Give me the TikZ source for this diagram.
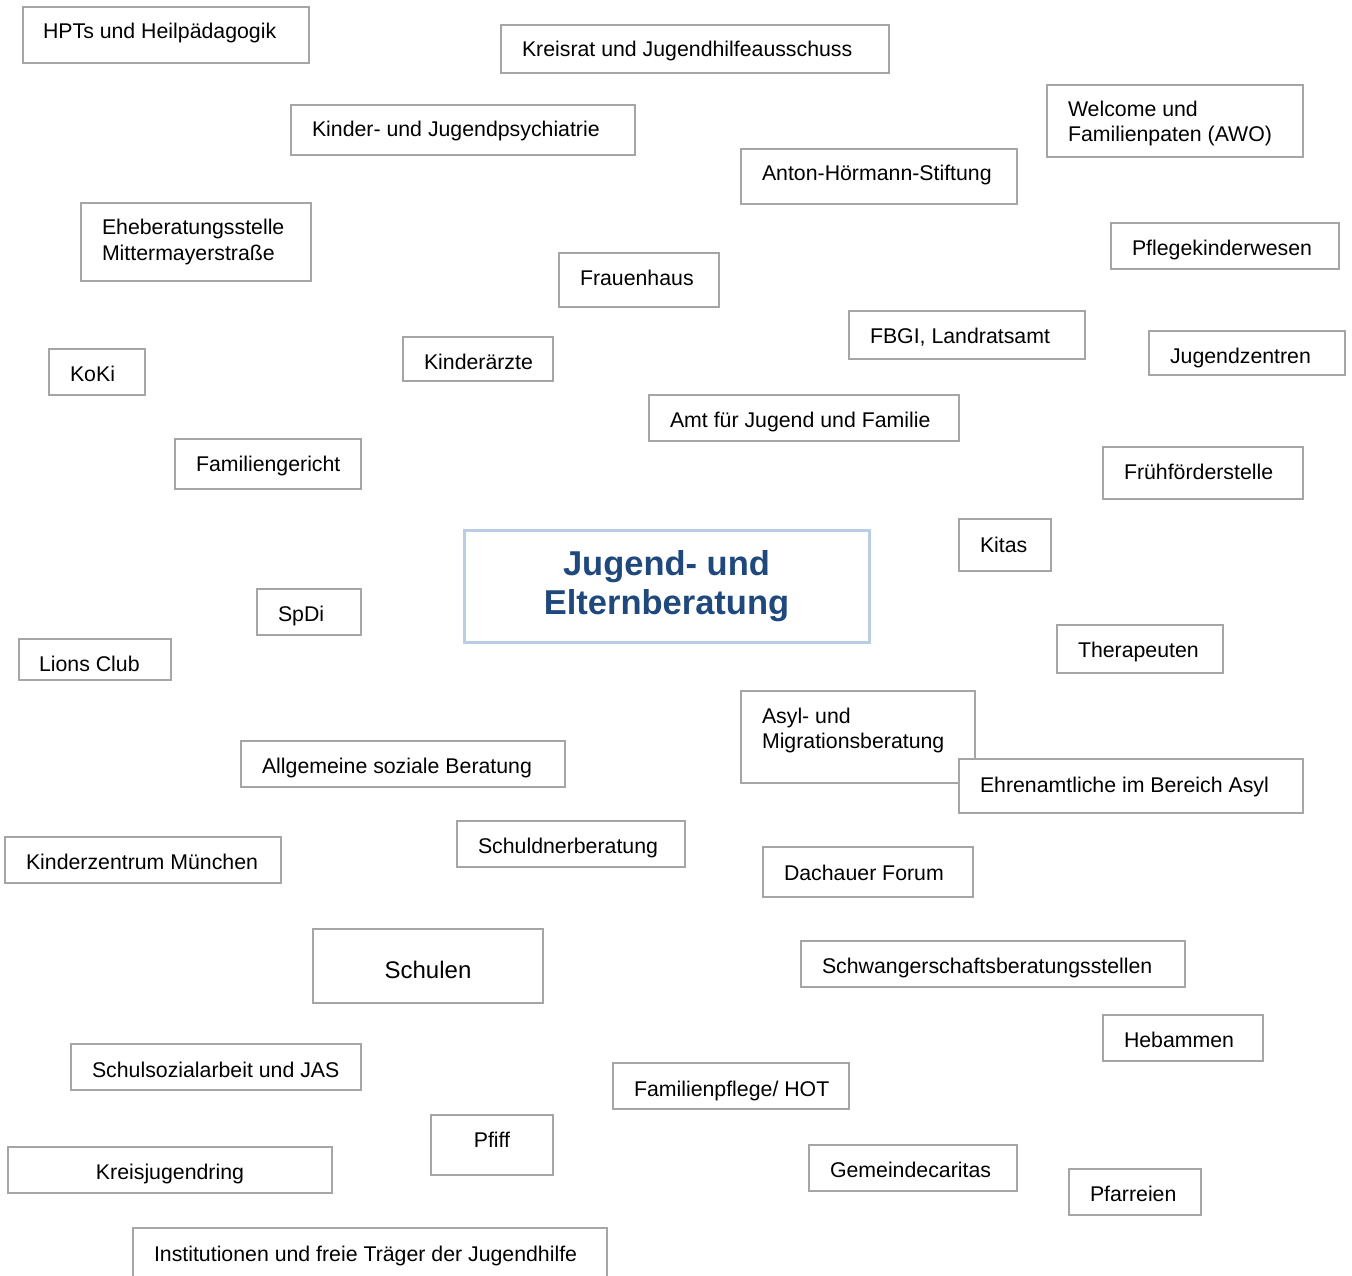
\documentclass[tikz,border=0pt]{standalone}
\usepackage{fontspec}
\setmainfont{Liberation Sans}
\definecolor{boxgray}{RGB}{166,166,166}
\definecolor{titleblue}{RGB}{31,73,125}
\definecolor{titleframe}{RGB}{185,205,229}
\tikzset{
  box/.style={draw=boxgray, line width=2, fill=white, rectangle, inner sep=0, outer sep=0},
  lbl/.style={inner sep=0, outer sep=0, font=\fontsize{21.3}{25}\selectfont, text=black},
  titlebox/.style={draw=titleframe, line width=3, fill=white, rectangle, inner sep=0, outer sep=0},
  titlelbl/.style={inner sep=0, outer sep=0, font=\fontsize{34.5}{39.5}\selectfont\bfseries, text=titleblue},
}
% name, x1, y1, x2, y2, text x, baseline y, text
\newcommand\ebox[8]{%
  \node[box, anchor=north west, minimum width={#4-#2}, minimum height={#5-#3}] (#1) at (#2,#3) {};
  \node[lbl, anchor=base west] (#1-t) at (#6,#7+1) {#8};
}
\newcommand\cbox[8]{%
  \node[box, anchor=north west, minimum width={#4-#2}, minimum height={#5-#3}] (#1) at (#2,#3) {};
  \node[lbl, anchor=base] (#1-t) at (#6,#7+1) {#8};
}
\newcommand\twol[2]{\begin{tabular}[t]{@{}l@{}}#1\\#2\end{tabular}}
\begin{document}
\begin{tikzpicture}[x=1pt,y=-1pt]
\useasboundingbox (0,0) rectangle (1352,1276);
\clip (0,0) rectangle (1352,1276);
\fill[white] (0,0) rectangle (1352,1276);

\ebox{hpt}{23}{7}{309}{63}{43}{38}{HPTs und Heilpädagogik}
\ebox{kreis}{501}{25}{889}{73}{522}{56}{Kreisrat und Jugendhilfeausschuss}
\ebox{kjp}{291}{105}{635}{155}{312}{136}{Kinder- und Jugendpsychiatrie}
\ebox{welcome}{1047}{85}{1303}{157}{1068}{116}{\twol{Welcome und}{Familienpaten (AWO)}}
\ebox{anton}{741}{149}{1017}{204}{762}{180}{Anton-Hörmann-Stiftung}
\ebox{ehe}{81}{203}{311}{281}{102}{234}{\twol{Eheberatungsstelle}{Mittermayerstraße}}
\ebox{pflege}{1111}{223}{1339}{269}{1132}{254}{Pflegekinderwesen}
\ebox{frauen}{559}{253}{719}{307}{580}{284}{Frauenhaus}
\ebox{fbgi}{849}{311}{1085}{359}{870}{342}{FBGI, Landratsamt}
\ebox{jz}{1149}{331}{1345}{375}{1170}{362}{Jugendzentren}
\ebox{koki}{49}{349}{145}{395}{70}{380}{KoKi}
\ebox{kaerzte}{403}{337}{553}{381}{424}{368}{Kinderärzte}
\ebox{amt}{649}{395}{959}{441}{670}{426}{Amt für Jugend und Familie}
\ebox{famg}{175}{439}{361}{489}{196}{470}{Familiengericht}
\ebox{fruehf}{1103}{447}{1303}{499}{1124}{478}{Frühförderstelle}

\node[titlebox, anchor=north west, minimum width=405, minimum height=112] (center) at (464,530) {};
\node[titlelbl, anchor=base] (center-t) at (666.5,575) {\begin{tabular}[t]{@{}c@{}}Jugend- und\\Elternberatung\end{tabular}};

\ebox{kitas}{959}{519}{1051}{571}{980}{551}{Kitas}
\ebox{spdi}{257}{589}{361}{635}{278}{620}{SpDi}
\ebox{lions}{19}{639}{171}{680}{39}{670}{Lions Club}
\ebox{therap}{1057}{625}{1223}{673}{1078}{656}{Therapeuten}
\ebox{asyl}{741}{691}{975}{783}{762}{722}{\twol{Asyl- und}{Migrationsberatung}}
\ebox{ehren}{959}{759}{1303}{813}{980}{791}{Ehrenamtliche im Bereich Asyl}
\ebox{allg}{241}{741}{565}{787}{262}{772}{Allgemeine soziale Beratung}
\ebox{kiz}{5}{837}{281}{883}{26}{868}{Kinderzentrum München}
\ebox{schuldner}{457}{821}{685}{867}{478}{852}{Schuldnerberatung}
\ebox{dachau}{763}{847}{973}{897}{784}{879}{Dachauer Forum}
\node[box, anchor=north west, minimum width=230, minimum height=74] (schulen) at (313,929) {};
\node[lbl, anchor=base, font=\fontsize{24}{28}\selectfont] (schulen-t) at (428,978) {Schulen};
\ebox{schwanger}{801}{941}{1185}{987}{822}{972}{Schwangerschaftsberatungsstellen}
\ebox{hebammen}{1103}{1015}{1263}{1061}{1124}{1046}{Hebammen}
\ebox{ssa}{71}{1044}{361}{1090}{92}{1076}{Schulsozialarbeit und JAS}
\ebox{fampflege}{613}{1063}{849}{1109}{634}{1095}{Familienpflege/ HOT}
\cbox{pfiff}{431}{1115}{553}{1175}{492}{1146}{Pfiff}
\cbox{kjr}{8}{1147}{332}{1193}{170}{1178}{Kreisjugendring}
\ebox{caritas}{809}{1145}{1017}{1191}{830}{1176}{Gemeindecaritas}
\ebox{pfarreien}{1069}{1169}{1201}{1215}{1090}{1200}{Pfarreien}
\ebox{inst}{133}{1228}{607}{1300}{154}{1260}{Institutionen und freie Träger der Jugendhilfe}
\end{tikzpicture}
\end{document}
